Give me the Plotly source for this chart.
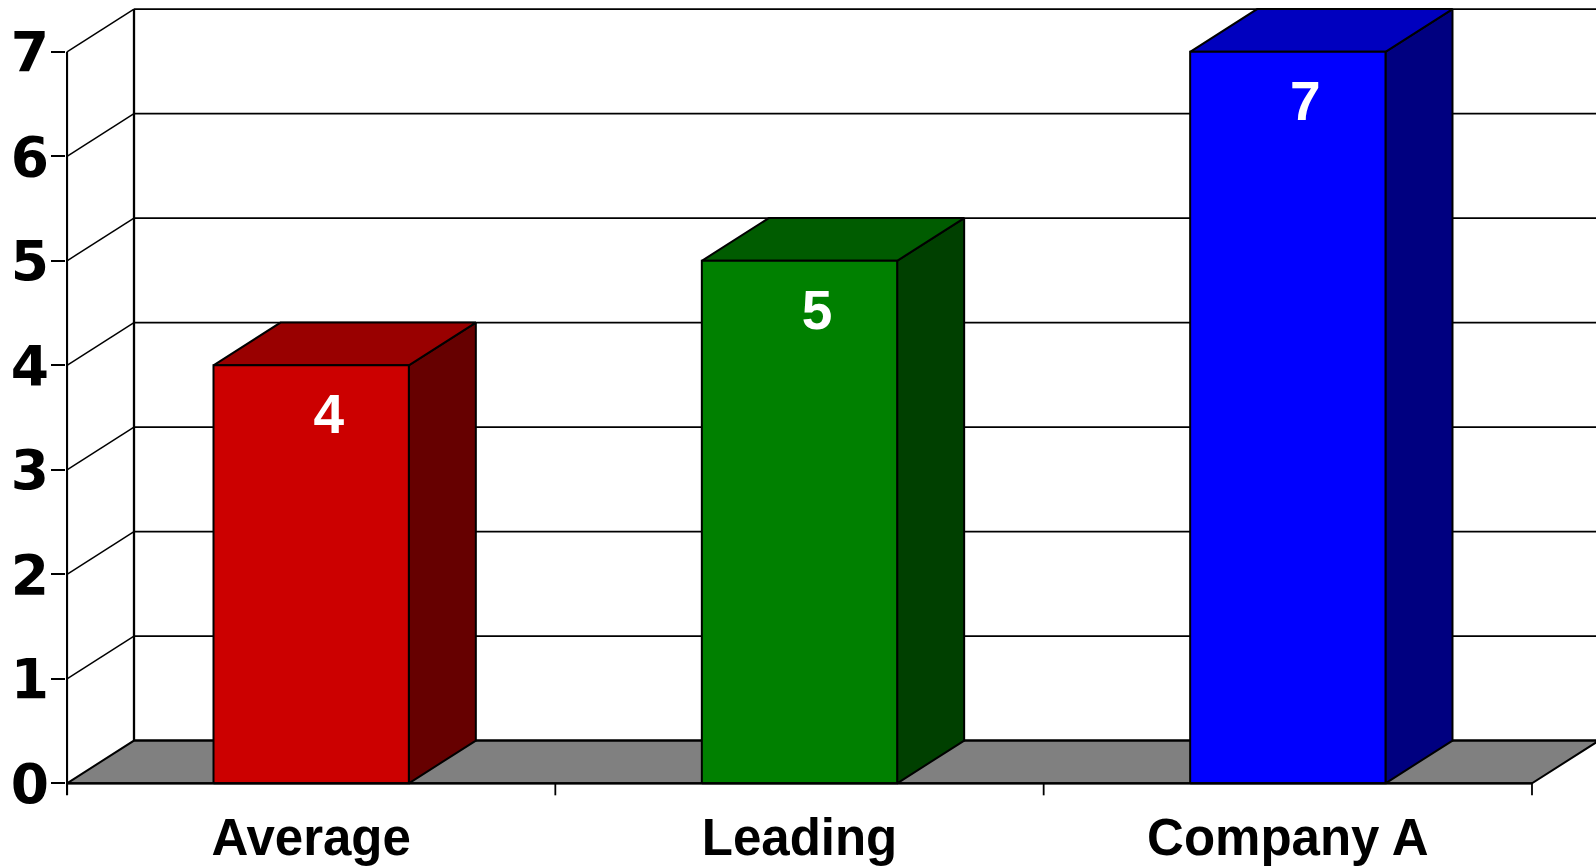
import plotly.graph_objects as go

# Chart data
categories = ["Average", "Leading", "Company A"]
values = [4, 5, 7]
y_ticks = [0, 1, 2, 3, 4, 5, 6, 7]

# Face colours per bar: front, top, side
front_colors = ["#CC0000", "#008000", "#0000FF"]
top_colors = ["#990000", "#005C00", "#0000BF"]
side_colors = ["#660000", "#004000", "#000080"]

# 3D look: depth offset of the back plane (in axis units)
DX = 0.1372
DY = 0.4086
HALF_W = 0.2
Y_MAX = 7
X_END = len(categories)
LINE = dict(color="black", width=2)

fig = go.Figure()


def poly(xs, ys, fill):
    fig.add_trace(go.Scatter(
        x=xs + [xs[0]], y=ys + [ys[0]], mode="lines", fill="toself",
        fillcolor=fill, line=LINE, hoverinfo="skip", showlegend=False))


def seg(xs, ys, width=1.8):
    fig.add_trace(go.Scatter(
        x=xs, y=ys, mode="lines", line=dict(color="black", width=width),
        hoverinfo="skip", showlegend=False))


# Back wall and left wall gridlines
for k in y_ticks[1:]:
    seg([DX, X_END + 1], [k + DY, k + DY], width=1.8)
    seg([0, DX], [k, k + DY], width=1.5)
seg([DX, DX], [DY, Y_MAX + DY], width=2.3)

# Floor
poly([0, X_END, X_END + DX, DX], [0, 0, DY, DY], "#808080")
seg([DX, X_END + DX], [DY, DY], width=2)

# Bars: side, top, front
for i, v in enumerate(values):
    c = i + 0.5
    x0, x1 = c - HALF_W, c + HALF_W
    poly([x1, x1 + DX, x1 + DX, x1], [0, DY, v + DY, v], side_colors[i])
    poly([x0, x1, x1 + DX, x0 + DX], [v, v, v + DY, v + DY], top_colors[i])
    poly([x0, x1, x1, x0], [0, 0, v, v], front_colors[i])

# Front axis line and category boundary ticks
seg([0, 0], [-0.115, Y_MAX], width=2.2)
seg([0, X_END], [0, 0], width=2.2)
for b in range(1, X_END + 1):
    seg([b, b], [0, -0.115], width=1.8)

# Value labels inside the bars
fig.add_trace(go.Scatter(
    x=[i + 0.5 + 0.036 for i in range(len(values))],
    y=[v - 0.52 for v in values],
    mode="text", text=[str(v) for v in values],
    textfont=dict(family="Liberation Sans, Arial, sans-serif", size=55, color="white",
                  weight="bold"),
    textposition="middle center", hoverinfo="skip", showlegend=False))

fig.update_layout(
    width=1596, height=868,
    margin=dict(l=66, r=0, t=0, b=72),
    plot_bgcolor="white", paper_bgcolor="white",
    xaxis=dict(
        range=[-1 / 488.33, (1596 - 67) / 488.33],
        tickvals=[i + 0.5 for i in range(len(categories))],
        ticktext=categories, ticks="", showgrid=False, zeroline=False,
        showline=False, ticklabelstandoff=7,
        tickfont=dict(family="Liberation Sans, Arial, sans-serif", size=51, color="black",
                      weight="bold"),
    ),
    yaxis=dict(
        range=[(783.3 - 796) / 104.5, 783.3 / 104.5],
        tickvals=y_ticks, ticks="outside", ticklen=14, tickwidth=1.8,
        tickcolor="black", showgrid=False, zeroline=False, showline=False,
        ticklabelstandoff=-9,
        tickfont=dict(family="DejaVu Sans, Verdana, sans-serif", size=55, color="black",
                      weight="bold"),
    ),
)

fig.write_html("out.html")
